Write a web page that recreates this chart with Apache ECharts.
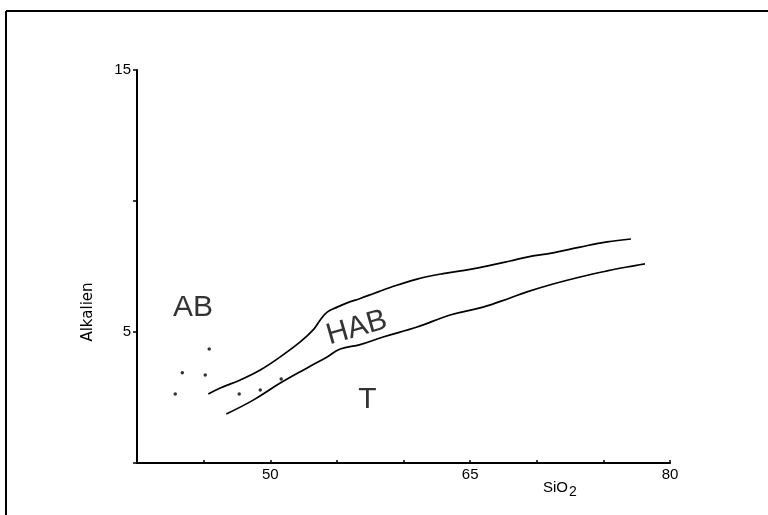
<!DOCTYPE html>
<html>
<head>
<meta charset="utf-8">
<script src="https://cdn.jsdelivr.net/npm/echarts@6/dist/echarts.min.js"></script>
<style>html,body{margin:0;padding:0;background:#fff}#c{width:768px;height:515px}</style>
</head>
<body>
<div id="c"></div>
<script>
// ---- data ----
const xTickLabels = [50, 65, 80];
const yTickLabels = [5, 15];
const upperBoundary = [
  [45.35,2.63],[46.25,2.86],[47.75,3.17],[49.25,3.55],[50.75,4.05],[52.25,4.62],
  [53.22,5.08],[53.75,5.46],[54.27,5.76],[55.02,5.95],[55.77,6.11],[56.75,6.28],
  [57.87,6.49],[59.0,6.70],[61.02,7.02],[62.97,7.23],[65.0,7.39],[66.5,7.54],
  [68.0,7.71],[69.27,7.86],[71.22,8.02],[73.25,8.24],[75.27,8.44],[77.07,8.55]
];
const lowerBoundary = [
  [46.7,1.87],[48.72,2.40],[50.75,3.05],[52.77,3.63],[54.27,4.05],[55.25,4.35],
  [56.75,4.52],[58.47,4.81],[61.02,5.19],[63.5,5.65],[65.97,5.95],[68.0,6.30],
  [69.27,6.53],[71.22,6.83],[73.25,7.10],[75.27,7.33],[76.77,7.48],[78.12,7.60]
];
const samples = [
  [42.87,2.63],[43.4,3.44],[45.12,3.36],[45.42,4.35],[47.67,2.63],[49.25,2.79],[50.82,3.21]
];
const regionNames = ['AB', 'HAB', 'T'];
const regionX = [44.2, 56.5, 57.3];
const regionY = [5.92, 5.15, 2.40];
const regionRotate = [0, 16, 0];

const chart = echarts.init(document.getElementById('c'), null, {renderer: 'canvas'});
const font = 'Liberation Sans, Arial, Helvetica, sans-serif';

const option = {
  backgroundColor: '#fff',
  animation: false,
  grid: {left: 137, right: 98, top: 70, bottom: 52, containLabel: false},
  xAxis: {
    type: 'value', min: 40, max: 80, interval: 5,
    axisLine: {lineStyle: {color: '#000', width: 2}},
    axisTick: {inside: true, length: 3, lineStyle: {color: '#000', width: 1.5}},
    axisLabel: {
      margin: 4, color: '#000', fontSize: 15, fontFamily: font,
      formatter: v => xTickLabels.includes(v) ? String(v) : ''
    },
    splitLine: {show: false}
  },
  yAxis: {
    type: 'value', min: 0, max: 15, interval: 5,
    axisLine: {lineStyle: {color: '#000', width: 2}},
    axisTick: {inside: false, length: 4, lineStyle: {color: '#000', width: 1.5}},
    axisLabel: {
      margin: 6, color: '#000', fontSize: 15, fontFamily: font,
      formatter: v => yTickLabels.includes(v) ? String(v) : ''
    },
    splitLine: {show: false}
  },
  graphic: [
    {type: 'line', shape: {x1: 6, y1: 11, x2: 768, y2: 11}, style: {stroke: '#000', lineWidth: 2}},
    {type: 'line', shape: {x1: 6, y1: 11, x2: 6, y2: 515}, style: {stroke: '#000', lineWidth: 2}},
    {type: 'text', x: 88, y: 312, rotation: Math.PI / 2, style: {
      text: 'Alkalien', fill: '#000', font: '15px "DejaVu Sans", sans-serif',
      textAlign: 'center', textVerticalAlign: 'middle'
    }},
    {type: 'text', left: 543, top: 480, style: {
      text: '{a|SiO}{b|2}', fill: '#000',
      rich: {a: {fontSize: 15, fontFamily: font, fill: '#000'},
             b: {fontSize: 14, fontFamily: font, fill: '#000', padding: [10, 0, 0, 1]}}
    }}
  ],
  series: [
    {type: 'line', data: upperBoundary, smooth: 0.4, showSymbol: false, symbol: 'none',
     lineStyle: {color: '#000', width: 1.7}},
    {type: 'line', data: lowerBoundary, smooth: 0.4, showSymbol: false, symbol: 'none',
     lineStyle: {color: '#000', width: 1.7}},
    {type: 'scatter', data: samples, symbol: 'circle', symbolSize: 3.5,
     itemStyle: {color: '#000'}},
    {type: 'scatter', symbolSize: 0,
     data: regionNames.map((n, i) => ({value: [regionX[i], regionY[i]], name: n,
       label: {rotate: regionRotate[i]}})),
     label: {show: true, position: 'inside', formatter: p => p.name,
       color: '#000', fontSize: 30, fontFamily: font}}
  ]
};
chart.setOption(option);
</script>
</body>
</html>
